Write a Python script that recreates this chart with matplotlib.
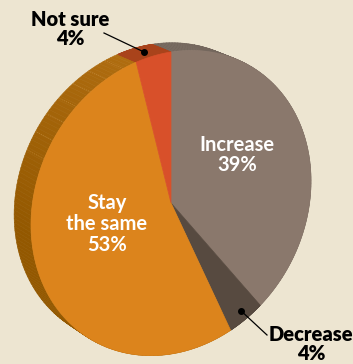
import numpy as np
import matplotlib.pyplot as plt
from matplotlib.patches import Polygon
from matplotlib.collections import PolyCollection
from matplotlib.colors import to_rgb

# --- datos ---
categorias = ['Increase', 'Decrease', 'Stay the same', 'Not sure']
porcentajes = [39, 4, 53, 4]
etiquetas = ['Increase\n39%', 'Decrease\n4%', 'Stay\nthe same\n53%', 'Not sure\n4%']
colores_cara = ['#8a786c', '#574a40', '#dc841c', '#d8502a']
colores_lado = ['#74675d', '#4a3f37', '#a2630a', '#a9431b']

fondo = '#ede5d1'

# --- geometria del disco inclinado (en pixeles) ---
cx, cy = 171, 203
A = np.array([[140.0, 0.0], [-22.0, -151.0]])
profundidad = np.array([-19.0, -10.0])
escala_atras = 0.985


def frente(theta, r=1.0):
    u = np.vstack([np.cos(theta), np.sin(theta)]) * r
    return (A @ u).T + [cx, cy]


def atras(theta):
    u = np.vstack([np.cos(theta), np.sin(theta)]) * escala_atras
    return (A @ u).T + [cx, cy] + profundidad


fig = plt.figure(figsize=(3.53, 3.64), dpi=100)
fig.patch.set_facecolor(fondo)
ax = fig.add_axes([0, 0, 1, 1])
ax.set_xlim(0, 353)
ax.set_ylim(364, 0)
ax.axis('off')

# angulos: empieza arriba y va en sentido horario
acum = np.concatenate([[0], np.cumsum(porcentajes)])
limites = np.deg2rad(90 - 360 * acum / 100.0)

# --- costado ---
for i in range(len(porcentajes)):
    th = np.linspace(limites[i], limites[i + 1], 120)
    f = frente(th)
    b = atras(th)
    quads = [[f[k], f[k + 1], b[k + 1], b[k]] for k in range(len(th) - 1)]
    if categorias[i] == 'Stay the same':
        # sombreado: mas claro arriba, mas oscuro a la izquierda
        deg = np.rad2deg(th[:-1]) % 360
        t = np.clip((deg - 105) / 80.0, 0, 1)
        c1, c2 = np.array(to_rgb('#b06d10')), np.array(to_rgb('#935800'))
        cols = [tuple(c1 + (c2 - c1) * tt) for tt in t]
    else:
        cols = [colores_lado[i]] * len(quads)
    pc = PolyCollection(quads, facecolors=cols, edgecolors=cols, linewidths=0.4, zorder=1)
    ax.add_collection(pc)

# lineas de las facetas en el costado naranja
for d in np.arange(110, 160, 7.5):
    th = np.deg2rad([d])
    f = frente(th)[0]
    b = atras(th)[0]
    ax.plot([f[0], b[0]], [f[1], b[1]], color='#d8a45a', lw=0.5,
            ls=(0, (1.5, 1.5)), alpha=0.55, zorder=2)

# --- cara frontal ---
for i in range(len(porcentajes)):
    th = np.linspace(limites[i], limites[i + 1], 200)
    pts = np.vstack([[cx, cy], frente(th)])
    ax.add_patch(Polygon(pts, closed=True, facecolor=colores_cara[i],
                         edgecolor=colores_cara[i], lw=0.5, zorder=3))

# --- textos ---
fuente = ['Lato', 'DejaVu Sans']
estilo = dict(fontsize=14.5, family=fuente, ha='center',
              va='center', linespacing=1.05, zorder=5)
ax.text(237, 155, etiquetas[0], color='white', fontweight='bold', **estilo)
ax.text(107, 224, etiquetas[2], color='white', fontweight='bold', **estilo)
ax.text(70, 29, etiquetas[3], color='black', fontweight='heavy', **estilo)
ax.text(311, 344, etiquetas[1], color='black', fontweight='heavy', **estilo)

# lineas guia
mid_ns = np.deg2rad(90 - 360 * (acum[3] + porcentajes[3] / 2) / 100.0)
p_ns = (frente([mid_ns])[0] + atras([mid_ns])[0]) / 2
ax.plot([104, p_ns[0]], [33, p_ns[1]], color='black', lw=0.9, zorder=6)
ax.plot(p_ns[0], p_ns[1], 'o', color='black', ms=4, zorder=6)

mid_de = np.deg2rad(90 - 360 * (acum[1] + porcentajes[1] / 2) / 100.0)
p_de = frente([mid_de], r=0.93)[0]
ax.plot([p_de[0], 267], [p_de[1], 335], color='black', lw=0.9, zorder=6)
ax.plot(p_de[0], p_de[1], 'o', color='black', ms=4, zorder=6)

fig.savefig('out.png', dpi=100, facecolor=fondo)
